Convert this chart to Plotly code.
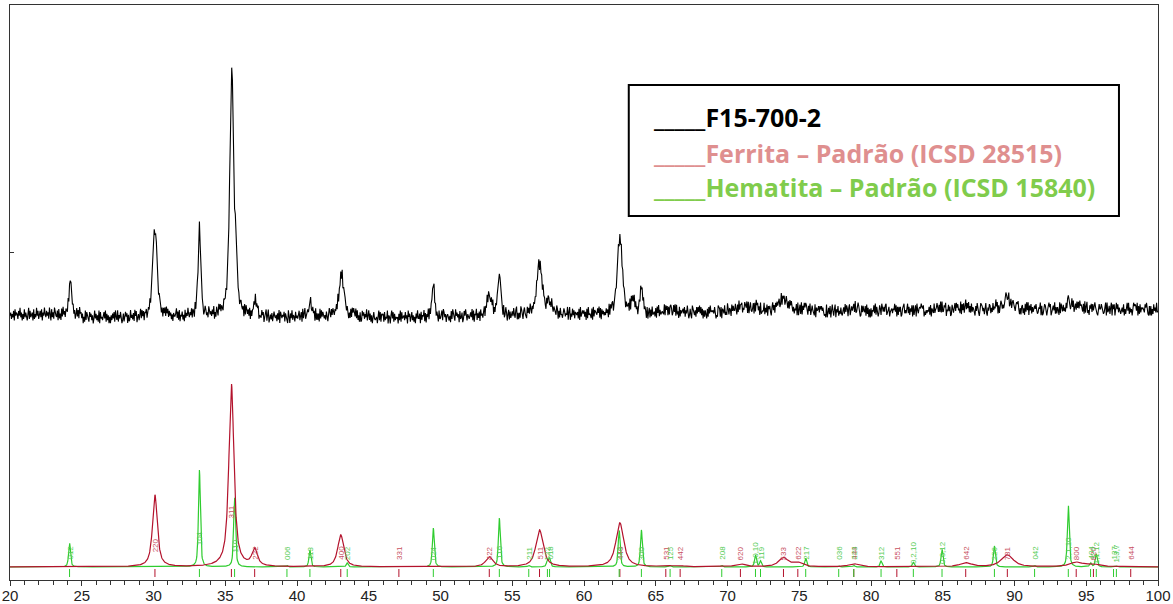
import numpy as np
import plotly.graph_objects as go

# ---------------- measured pattern: sample F15-700-2 ----------------
# reflections seen in the scan: 2theta (deg), height above background, FWHM (deg)
sample_pos = [24.2, 30.1, 33.2, 35.45, 35.75, 37.1, 40.9, 43.1, 49.5, 53.4, 54.1,
              56.9, 57.6, 62.5, 63.4, 64.0, 66.0, 71.0, 72.0, 73.9, 75.4, 78.8,
              84.9, 86.6, 88.6, 89.5, 93.8, 94.4]
sample_height = [35, 88, 95, 248, 40, 15, 16, 42, 32, 22, 44,
                 50, 12, 78, 14, 28, 4, 4, 5, 13, 5, 4,
                 4, 4, 4, 12, 7, 4]
sample_fwhm = [0.2, 0.35, 0.2, 0.32, 0.2, 0.3, 0.25, 0.4, 0.22, 0.4, 0.22,
               0.45, 0.35, 0.4, 0.3, 0.22, 0.5, 0.7, 0.3, 0.6, 0.4, 0.6,
               0.3, 0.7, 0.3, 0.7, 0.3, 0.8]

# background level of the scan, one value per 5 deg block from 20 deg
sample_background = [265, 262, 263, 262, 263, 262, 263, 265,
                     265, 267, 269, 268, 269, 269, 270, 270]

# counting noise of the scan, one digit per 0.05 deg step (0..9, centred on 4.5)
sample_noise = "".join([
    "4625371846 5274936152 8364159273 4618253947 2573816495 3746295183 6295437182 5183946275 3926471583 6148372956",
    "4715293864 2857361494 7362918453 5849273615 1637482953 9264851372 4857162394 6372958146 2593847165 7146382597",
    "3815946273 5261748395 8374625164 4693728154 7251836495 3648275193 5927418365 1486352974 6374915283 2958364175",
    "4713826594 8562937146 2685471939 5473816254 7392658143 3857146926 9146372585 4627391854 6582743196 1749365284",
    "5368247193 7924651348 3485719262 6193847535 2741596384 8536472915 3829164753 7415283969 6493825171 2857364928",
    "9372615843 4516938276 7283549165 1694827354 5173928466 3846195728 8362517494 4718365927 1649283756 5937264183",
    "3582974615 6425183976 2957461834 7138594265 3574928165 9263718452 5816392743 2749163858 8135647292 4961582737",
    "6384279151 5297316843 1847395263 6352847918 4729563184 8614295375 5397162844 2786354916 9153847265 4628193575",
    "7361829454 2819376548 5928174635 3746192858 8154736291 6293847516 4572918363 9384615727 2639475181 5827394663",
    "7184926355 4392857161 6751384929 3518264774 8264951373 1975362848 5948371626 3172849565 6485132977 2817649353",
    "9326518474 4851729366 7143865929 2694358171 8573619244 4926381757 3169472858 5782391646 1485273969 7362548191",
    "5829163747 6317492585 3291756848 6857423191 4738169526 9164825373 2573948616 8146357292 3697512848 5482937161",
    "6154839272 1386295474 8923571466 3659481727 4712689353 5937264818 2481953676 9768142535 4728165393 5694372818",
    "2376915484 7128536949 6845291737 1593748262 8365217494 3159874626 9316487252 7243958161 5862413797 4591372686",
    "3268794151 6725183949 1748263575 8423659171 2587314696 8135749262 6419285373 5273896414 9481562737 3856427192",
    "6924175838 4796321585 5864237919 3472691858 1795836424 6381527949 2635149787 4917283656 5386942171 7152846393",
    "4",
]).replace(" ", "")

# ---------------- reference pattern: Ferrita (ICSD 28515) ----------------
ferrita_pos = [30.1, 35.43, 37.05, 43.05, 47.1, 53.4, 56.9, 62.5, 65.7, 66.7,
               70.9, 73.9, 74.9, 78.8, 81.8, 86.6, 89.5, 94.3, 95.5, 98.1]
ferrita_height = [72, 183, 17, 32, 0.6, 10, 37, 44, 1.5, 1,
                  3, 9, 4, 3, 0.6, 4, 12, 4.5, 2.5, 0.6]
ferrita_fwhm = [0.4, 0.42, 0.45, 0.5, 0.5, 0.6, 0.6, 0.65, 0.7, 0.7,
                0.8, 0.8, 0.8, 0.9, 0.9, 1.0, 1.0, 1.1, 1.1, 1.1]
ferrita_hkl = ["220", "311", "222", "400", "331", "422", "511", "440", "531", "442",
               "620", "533", "622", "444", "551", "642", "731", "800", "820", "644"]

# ---------------- reference pattern: Hematita (ICSD 15840) ----------------
hematita_pos = [24.15, 33.2, 35.65, 39.3, 40.9, 43.5, 49.5, 54.1, 56.15, 57.45,
                57.6, 62.45, 64.0, 66.0, 69.6, 71.95, 72.3, 75.45, 77.75, 78.8,
                80.7, 82.95, 84.95, 88.6, 91.4, 93.75, 95.3, 95.7, 96.9, 97.1]
hematita_height = [24, 97, 70, 1.5, 17, 4, 39, 49, 1.5, 6,
                   8, 37, 37, 1.5, 1.5, 12, 6, 9, 1, 1.5,
                   6, 5, 18, 21, 1.5, 62, 4, 13, 1, 1]
hematita_hkl = ["012", "104", "110", "006", "113", "202", "024", "116", "211", "122",
                "018", "214", "300", "125", "208", "1,0,10", "119", "217", "036", "223",
                "312", "0,2,10", "0,0,12", "226", "042", "2,1,10", "404", "1,1,12", "137", "1,3,7"]
hematita_fwhm = 0.16

REF_BASE = 13   # baseline of the simulated reference patterns

# ---------------- helpers ----------------
def pseudo_voigt(x, pos, height, fwhm, eta=0.7):
    hw = fwhm / 2.0
    lor = 1.0 / (1.0 + ((x - pos) / hw) ** 2)
    gau = np.exp(-np.log(2) * ((x - pos) / hw) ** 2)
    return height * (eta * lor + (1 - eta) * gau)


# measured scan
digits = np.array([int(c) for c in sample_noise], dtype=float)
x_scan = 20.0 + 0.05 * np.arange(len(digits))
block = np.minimum(((x_scan - 20.0) // 5).astype(int), len(sample_background) - 1)
y_scan = np.array(sample_background, dtype=float)[block] + (digits - 4.5) * 1.6
for p, h, w in zip(sample_pos, sample_height, sample_fwhm):
    y_scan += pseudo_voigt(x_scan, p, h, w)

# simulated reference profiles
x_ref = np.linspace(20, 100, 4001)
y_fer = np.full_like(x_ref, REF_BASE)
for p, h, w in zip(ferrita_pos, ferrita_height, ferrita_fwhm):
    y_fer += pseudo_voigt(x_ref, p, h, w, eta=0.8)
y_hem = np.full_like(x_ref, REF_BASE)
for p, h in zip(hematita_pos, hematita_height):
    y_hem += pseudo_voigt(x_ref, p, h, hematita_fwhm, eta=0.6)

RED = "#b3122c"
GREEN = "#2fcc2f"


def sticks(positions):
    xs, ys = [], []
    for p in positions:
        xs += [p, p, None]
        ys += [3, 11, None]
    return xs, ys


fig = go.Figure()
fig.add_trace(go.Scatter(x=x_ref, y=y_hem, mode="lines",
                         line=dict(color=GREEN, width=1.2), showlegend=False, hoverinfo="skip"))
fig.add_trace(go.Scatter(x=x_ref, y=y_fer, mode="lines",
                         line=dict(color=RED, width=1.2), showlegend=False, hoverinfo="skip"))
sx, sy = sticks(ferrita_pos)
fig.add_trace(go.Scatter(x=sx, y=sy, mode="lines", line=dict(color=RED, width=1),
                         showlegend=False, hoverinfo="skip"))
sx, sy = sticks(hematita_pos)
fig.add_trace(go.Scatter(x=sx, y=sy, mode="lines", line=dict(color=GREEN, width=1),
                         showlegend=False, hoverinfo="skip"))
fig.add_trace(go.Scatter(x=x_scan, y=y_scan, mode="lines",
                         line=dict(color="black", width=1.1), showlegend=False))

# hkl labels of the reference reflections
annotations = []
for p, h, t in zip(ferrita_pos, ferrita_height, ferrita_hkl):
    annotations.append(dict(x=p, y=REF_BASE + max(14, 0.3 * h), text=t, textangle=-90,
                            showarrow=False, font=dict(size=8, color="#c8505f",
                                                       family="Liberation Sans Narrow, Liberation Sans")))
for p, h, t in zip(hematita_pos, hematita_height, hematita_hkl):
    annotations.append(dict(x=p, y=REF_BASE + max(14, 0.3 * h), text=t, textangle=-90,
                            showarrow=False, font=dict(size=8, color="#55cc55",
                                                       family="Liberation Sans Narrow, Liberation Sans")))

# legend box
legend_lines = [("_____F15-700-2", "#000000", 0.805),
                ("_____Ferrita – Padrão (ICSD 28515)", "#df8f8f", 0.743),
                ("_____Hematita – Padrão (ICSD 15840)", "#80cc4c", 0.683)]
for text, color, yy in legend_lines:
    annotations.append(dict(xref="paper", yref="paper", x=0.558, y=yy, text="<b>" + text + "</b>",
                            xanchor="left", yanchor="middle", showarrow=False,
                            font=dict(size=25, color=color, family="Open Sans")))

fig.update_layout(
    width=1173, height=604,
    margin=dict(l=10, r=15, t=5, b=24, autoexpand=False),
    paper_bgcolor="white", plot_bgcolor="white",
    annotations=annotations,
    shapes=[dict(type="rect", xref="paper", yref="paper", x0=0.539, x1=0.966, y0=0.633, y1=0.861,
                 line=dict(color="black", width=2), fillcolor="white", layer="above")],
)
fig.update_xaxes(range=[20, 100], tickvals=list(range(20, 101, 5)), ticks="outside", ticklen=5,
                 tickcolor="#333", showline=True, linecolor="#333", linewidth=1, mirror=True,
                 showgrid=False, zeroline=False, automargin=False, ticklabelstandoff=-3,
                 tickfont=dict(size=15, color="#222", family="Liberation Sans Narrow, Liberation Sans"),
                 minor=dict(dtick=1, ticks="outside", ticklen=4, tickcolor="#333"))
fig.update_yaxes(range=[0, 575], tickvals=[328], ticktext=[""], ticks="inside", ticklen=4,
                 tickcolor="#333", showline=True, linecolor="#333", linewidth=1, mirror=True,
                 showgrid=False, zeroline=False, automargin=False)

fig.write_html("out.html")
